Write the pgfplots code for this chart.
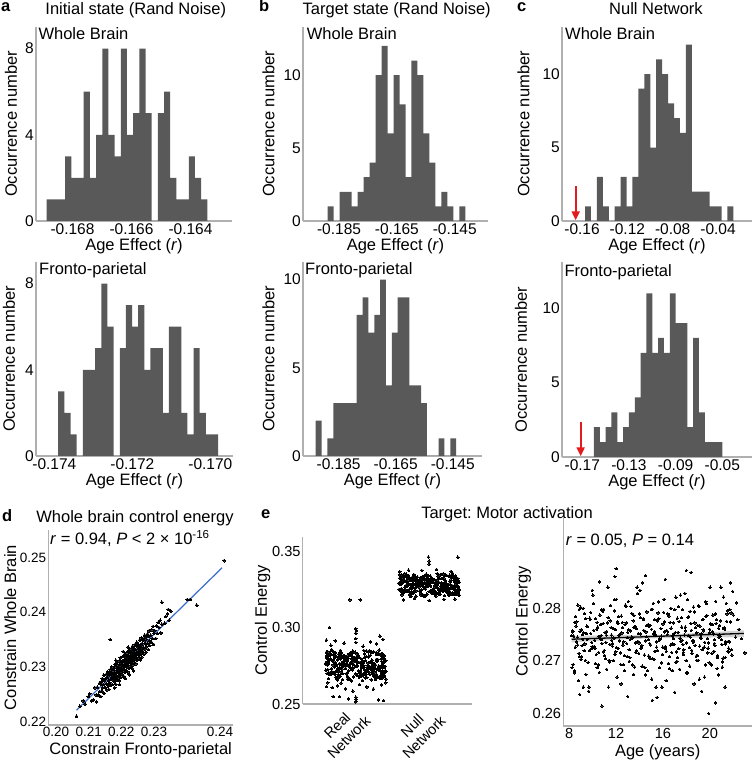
\documentclass[border=0pt]{standalone}
\usepackage{fontspec}
\setmainfont{Liberation Sans}
\usepackage{pgfplots}
\usepackage{pgfplotstable}
\pgfplotsset{compat=1.18}
\usetikzlibrary{arrows.meta}
\definecolor{bargray}{HTML}{595959}
\definecolor{axgray}{HTML}{B0B0B0}
\definecolor{arrowred}{HTML}{E41A1C}
\definecolor{lineblue}{HTML}{3A6BC9}
\newcommand{\fs}{\fontsize{16.5pt}{19pt}\selectfont}
\newcommand{\fsz}[1]{\fontsize{#1}{#1}\selectfont}
\pgfplotsset{
  base/.style={
    scale only axis, anchor=south west,
    axis x line=bottom, axis y line=left,
    axis line style={-, draw=axgray, line width=1.4pt},
    major tick length=0pt,
    tick label style={font=\fsz{15.5pt}, inner sep=2pt},
    label style={font=\fs},
    scaled ticks=false,
    /pgf/number format/assume math mode=true,
    xlabel style={at={([yshift=-25pt]axis description cs:0.5,0)}, anchor=center},
    ylabel style={at={(axis description cs:0,0.5)}, anchor=center},
  },
  ylshift/.style={ylabel style={at={([xshift=#1]axis description cs:0,0.5)}}},
  hist/.style={base, ymin=0, ylabel={Occurrence number}, xlabel={Age Effect (\textit{r})}},
  bars/.style={ybar interval, fill=bargray, draw=none},
  pts/.style={only marks, mark=*, mark size=#1, mark options={fill=black, draw=black, line width=0pt}},
  pts/.default=1.0pt,
  redarrow/.style={arrowred, line width=2pt, -{Triangle[width=8pt,length=9pt]}},
}
\pgfplotstableread{
xa ya xb yb xc yc xd yd
8.20 0.2748 8.25 0.2687 8.29 0.2757 8.32 0.2755
8.34 0.2693 8.39 0.2747 8.43 0.2677 8.46 0.2681
8.47 0.2773 8.52 0.2726 8.56 0.2784 8.59 0.2766
8.61 0.2736 8.66 0.2774 8.70 0.2745 8.73 0.2730
8.75 0.2806 8.80 0.2662 8.84 0.2714 8.87 0.2798
8.89 0.2708 8.94 0.2756 8.98 0.2802 9.01 0.2703
9.02 0.2759 9.07 0.2708 9.11 0.2729 9.14 0.2750
9.16 0.2741 9.21 0.2800 9.25 0.2753 9.28 0.2719
9.30 0.2790 9.35 0.2732 9.39 0.2701 9.42 0.2780
9.43 0.2674 9.48 0.2752 9.52 0.2766 9.55 0.2741
9.57 0.2765 9.62 0.2697 9.66 0.2642 9.69 0.2650
9.71 0.2719 9.76 0.2781 9.80 0.2779 9.83 0.2792
9.84 0.2752 9.89 0.2723 9.93 0.2735 9.96 0.2727
9.98 0.2834 10.03 0.2825 10.07 0.2809 10.10 0.2758
10.12 0.2727 10.17 0.2739 10.21 0.2724 10.24 0.2695
10.26 0.2780 10.31 0.2712 10.35 0.2760 10.38 0.2773
10.39 0.2687 10.44 0.2764 10.48 0.2692 10.51 0.2716
10.53 0.2746 10.58 0.2678 10.62 0.2787 10.65 0.2742
10.67 0.2769 10.72 0.2748 10.76 0.2740 10.79 0.2797
10.80 0.2733 10.85 0.2794 10.89 0.2771 10.92 0.2717
10.94 0.2798 10.99 0.2720 11.03 0.2710 11.06 0.2754
11.08 0.2704 11.13 0.2735 11.17 0.2749 11.20 0.2684
11.21 0.2756 11.26 0.2772 11.30 0.2840 11.33 0.2782
11.35 0.2650 11.40 0.2701 11.44 0.2698 11.47 0.2731
11.49 0.2776 11.54 0.2805 11.58 0.2763 11.61 0.2749
11.63 0.2739 11.68 0.2728 11.72 0.2732 11.75 0.2700
11.76 0.2761 11.81 0.2743 11.85 0.2795 11.88 0.2816
11.90 0.2712 11.95 0.2759 11.99 0.2717 12.02 0.2725
12.04 0.2817 12.09 0.2669 12.13 0.2774 12.16 0.2771
12.17 0.2723 12.22 0.2784 12.26 0.2748 12.29 0.2738
12.31 0.2750 12.36 0.2715 12.40 0.2693 12.43 0.2656
12.45 0.2785 12.50 0.2753 12.54 0.2773 12.57 0.2763
12.58 0.2730 12.63 0.2693 12.67 0.2736 12.70 0.2710
12.72 0.2681 12.77 0.2769 12.81 0.2806 12.84 0.2803
12.86 0.2772 12.91 0.2733 12.95 0.2708 12.98 0.2744
13.00 0.2754 13.05 0.2813 13.09 0.2759 13.12 0.2721
13.13 0.2699 13.18 0.2706 13.22 0.2741 13.25 0.2757
13.27 0.2803 13.32 0.2745 13.36 0.2790 13.39 0.2692
13.41 0.2743 13.46 0.2776 13.50 0.2674 13.53 0.2786
13.54 0.2764 13.59 0.2688 13.63 0.2765 13.66 0.2734
13.68 0.2716 13.73 0.2761 13.77 0.2719 13.80 0.2840
13.82 0.2828 13.87 0.2737 13.91 0.2752 13.94 0.2714
13.95 0.2734 14.00 0.2789 14.04 0.2834 14.07 0.2751
14.09 0.2782 14.14 0.2724 14.18 0.2727 14.21 0.2729
14.23 0.2690 14.28 0.2848 14.32 0.2780 14.35 0.2778
14.37 0.2758 14.42 0.2711 14.46 0.2687 14.49 0.2673
14.50 0.2738 14.55 0.2755 14.59 0.2746 14.62 0.2767
14.64 0.2793 14.69 0.2681 14.73 0.2769 14.76 0.2740
14.78 0.2709 14.83 0.2766 14.87 0.2733 14.90 0.2705
14.91 0.2767 14.96 0.2730 15.00 0.2798 15.03 0.2760
15.05 0.2665 15.10 0.2798 15.14 0.2704 15.17 0.2809
15.19 0.2751 15.24 0.2703 15.28 0.2756 15.31 0.2718
15.32 0.2778 15.37 0.2750 15.41 0.2650 15.44 0.2736
15.46 0.2726 15.51 0.2719 15.55 0.2776 15.58 0.2791
15.60 0.2812 15.65 0.2780 15.69 0.2739 15.72 0.2687
15.74 0.2742 15.79 0.2741 15.83 0.2761 15.86 0.2747
15.87 0.2696 15.92 0.2650 15.96 0.2712 15.99 0.2726
16.01 0.2770 16.06 0.2792 16.10 0.2817 16.13 0.2774
16.15 0.2755 16.20 0.2727 16.24 0.2723 16.27 0.2662
16.28 0.2718 16.33 0.2758 16.37 0.2750 16.40 0.2756
16.42 0.2789 16.47 0.2695 16.51 0.2785 16.54 0.2708
16.56 0.2685 16.61 0.2773 16.65 0.2730 16.68 0.2800
16.69 0.2762 16.74 0.2716 16.78 0.2681 16.81 0.2732
16.83 0.2747 16.88 0.2742 16.92 0.2772 16.95 0.2752
16.97 0.2731 17.02 0.2797 17.06 0.2754 17.09 0.2697
17.11 0.2821 17.16 0.2717 17.20 0.2699 17.23 0.2781
17.24 0.2706 17.29 0.2754 17.33 0.2803 17.36 0.2723
17.38 0.2775 17.43 0.2684 17.47 0.2743 17.50 0.2825
17.52 0.2737 17.57 0.2782 17.61 0.2764 17.64 0.2739
17.65 0.2797 17.70 0.2731 17.74 0.2716 17.77 0.2712
17.79 0.2721 17.84 0.2749 17.88 0.2828 17.91 0.2764
17.93 0.2757 17.98 0.2700 18.02 0.2734 18.05 0.2678
18.06 0.2677 18.11 0.2816 18.15 0.2782 18.18 0.2748
18.20 0.2784 18.25 0.2725 18.29 0.2690 18.32 0.2794
18.34 0.2745 18.39 0.2771 18.43 0.2758 18.46 0.2720
18.48 0.2714 18.53 0.2738 18.57 0.2738 18.60 0.2735
18.61 0.2802 18.66 0.2656 18.70 0.2793 18.73 0.2772
18.75 0.2729 18.80 0.2763 18.84 0.2709 18.87 0.2701
18.89 0.2753 18.94 0.2710 18.98 0.2767 19.01 0.2805
19.02 0.2701 19.07 0.2803 19.11 0.2665 19.14 0.2728
19.16 0.2766 19.21 0.2744 19.25 0.2751 19.28 0.2743
19.30 0.2642 19.35 0.2721 19.39 0.2778 19.42 0.2759
19.43 0.2779 19.48 0.2757 19.52 0.2726 19.55 0.2669
19.57 0.2735 19.62 0.2692 19.66 0.2812 19.69 0.2784
19.71 0.2809 19.76 0.2786 19.80 0.2742 19.83 0.2715
19.85 0.2724 19.90 0.2734 19.94 0.2696 19.97 0.2753
19.98 0.2760 20.03 0.2840 20.07 0.2770 20.10 0.2693
20.12 0.2692 20.17 0.2714 20.21 0.2755 20.24 0.2769
20.26 0.2787 20.31 0.2751 20.35 0.2718 20.38 0.2733
20.39 0.2740 20.44 0.2729 20.48 0.2789 20.51 0.2813
20.53 0.2771 20.58 0.2778 20.62 0.2685 20.65 0.2706
20.67 0.2710 20.72 0.2673 20.76 0.2762 20.79 0.2745
20.80 0.2749 20.85 0.2767 20.89 0.2747 20.92 0.2776
20.94 0.2840 20.99 0.2740 21.03 0.2731 21.06 0.2688
21.08 0.2698 21.13 0.2705 21.17 0.2821 21.20 0.2761
21.22 0.2763 21.27 0.2760 21.31 0.2706 21.34 0.2737
21.35 0.2732 21.40 0.2809 21.44 0.2775 21.47 0.2789
21.49 0.2795 21.54 0.2718 21.58 0.2737 21.61 0.2724
21.63 0.2717 21.68 0.2736 21.72 0.2797 21.75 0.2848
21.76 0.2774 21.81 0.2791 21.85 0.2721 21.88 0.2711
}\agetab
\begin{document}
\frenchspacing
\begin{tikzpicture}[font=\fs]
\path[use as bounding box] (0,0) rectangle (752pt,761pt);

% ---------- panel titles ----------
\node[anchor=base west, inner sep=0, font=\fs\bfseries] at (1pt,749pt) {a};
\node[anchor=base, inner sep=0] at (135.8pt,746pt) {Initial state (Rand Noise)};
\node[anchor=base west, inner sep=0, font=\fs\bfseries] at (259pt,749pt) {b};
\node[anchor=base, inner sep=0] at (396.7pt,746pt) {Target state (Rand Noise)};
\node[anchor=base west, inner sep=0, font=\fs\bfseries] at (517pt,749pt) {c};
\node[anchor=base, inner sep=0] at (656pt,746pt) {Null Network};
\node[anchor=base west, inner sep=0, font=\fs\bfseries] at (2pt,239pt) {d};
\node[anchor=base, inner sep=0] at (135pt,238.5pt) {Whole brain control energy};
\node[anchor=base west, inner sep=0, font=\fs\bfseries] at (261pt,242pt) {e};
\node[anchor=base, inner sep=0] at (507pt,242pt) {Target: Motor activation};

% ---------- a top ----------
\begin{axis}[hist, at={(36pt,540pt)}, width=196pt, height=194pt,
  xmin=-0.169237, xmax=-0.162593, ymax=9,
  xtick={-0.168,-0.166,-0.164}, xticklabels={-0.168,-0.166,-0.164},
  ytick={0,4,8}, ylshift=-25pt]
\addplot[bars] coordinates {(-0.168875,1) (-0.168666,1) (-0.168456,1) (-0.168247,3) (-0.168037,2) (-0.167828,2) (-0.167619,6) (-0.167409,2) (-0.167200,4) (-0.166991,8) (-0.166781,4) (-0.166572,3) (-0.166362,8) (-0.166153,4) (-0.165944,5) (-0.165734,8) (-0.165525,5) (-0.165316,0) (-0.165106,5) (-0.164897,6) (-0.164687,2) (-0.164478,1) (-0.164269,1) (-0.164059,3) (-0.163850,2) (-0.163640,1) (-0.163431,0)};
\end{axis}
\node[anchor=base west, inner sep=0] at (38.3pt,721pt) {Whole Brain};

% ---------- b top ----------
\begin{axis}[hist, at={(303pt,540pt)}, width=185pt, height=194pt,
  xmin=-0.19746, xmax=-0.1335, ymax=13.3,
  xtick={-0.185,-0.165,-0.145}, xticklabels={-0.185,-0.165,-0.145},
  ytick={0,5,10}, ylshift=-34.5pt]
\addplot[bars] coordinates {(-0.18893,1) (-0.18686,0) (-0.18479,2) (-0.18272,2) (-0.18065,1) (-0.17858,2) (-0.17651,3) (-0.17444,4) (-0.17237,10) (-0.17030,12) (-0.16823,6) (-0.16616,10) (-0.16409,8) (-0.16202,3) (-0.15995,11) (-0.15788,10) (-0.15581,6) (-0.15374,4) (-0.15167,1) (-0.14960,2) (-0.14753,1) (-0.14546,0) (-0.14339,1) (-0.14132,0)};
\end{axis}
\node[anchor=base west, inner sep=0] at (306.7pt,721pt) {Whole Brain};

% ---------- c top ----------
\begin{axis}[hist, at={(562pt,540pt)}, width=190pt, height=194pt,
  xmin=-0.1777, xmax=-0.01, ymax=13.2,
  xtick={-0.16,-0.12,-0.08,-0.04}, xticklabels={-0.16,-0.12,-0.08,-0.04},
  ytick={0,5,10}, ylshift=-38.5pt]
\addplot[bars] coordinates {(-0.15740,1) (-0.15216,0) (-0.14692,3) (-0.14168,1) (-0.13644,0) (-0.13120,1) (-0.12596,3) (-0.12072,1) (-0.11548,3) (-0.11024,9) (-0.10500,10) (-0.09976,5) (-0.09452,11) (-0.08928,10) (-0.08404,8) (-0.07880,7) (-0.07356,6) (-0.06832,12) (-0.06308,2) (-0.05784,2) (-0.05260,2) (-0.04736,1) (-0.04212,1) (-0.03688,0) (-0.03164,1) (-0.02640,0)};
\addplot[redarrow] coordinates {(-0.1656,2.35) (-0.1656,0.05)};
\end{axis}
\node[anchor=base west, inner sep=0] at (565pt,721pt) {Whole Brain};

% ---------- a bottom ----------
\begin{axis}[hist, at={(36pt,305pt)}, width=197pt, height=194pt,
  xmin=-0.17447, xmax=-0.16942, ymax=9,
  xtick={-0.174,-0.172,-0.170}, xticklabels={-0.174,-0.172,-0.170},
  ytick={0,4,8}, ylshift=-27pt]
\addplot[bars] coordinates {(-0.173900,3) (-0.173742,2) (-0.173585,1) (-0.173427,0) (-0.173269,4) (-0.173112,4) (-0.172954,5) (-0.172796,8) (-0.172638,6) (-0.172481,0) (-0.172323,5) (-0.172165,7) (-0.172008,6) (-0.171850,7) (-0.171692,4) (-0.171535,5) (-0.171377,5) (-0.171219,2) (-0.171061,6) (-0.170904,6) (-0.170746,2) (-0.170588,1) (-0.170431,5) (-0.170273,2) (-0.170115,1) (-0.169958,1) (-0.169800,0)};
\end{axis}
\node[anchor=base west, inner sep=0] at (39pt,486pt) {Fronto-parietal};

% ---------- b bottom ----------
\begin{axis}[hist, at={(303pt,305pt)}, width=179pt, height=194pt,
  xmin=-0.19746, xmax=-0.13475, ymax=11,
  xtick={-0.185,-0.165,-0.145}, xticklabels={-0.185,-0.165,-0.145},
  ytick={0,5,10}, ylshift=-34.5pt]
\addplot[bars] coordinates {(-0.19300,2) (-0.19095,0) (-0.18890,1) (-0.18685,3) (-0.18480,3) (-0.18275,3) (-0.18070,3) (-0.17865,8) (-0.17660,9) (-0.17455,7) (-0.17250,8) (-0.17045,10) (-0.16840,4) (-0.16635,7) (-0.16430,9) (-0.16225,9) (-0.16020,4) (-0.15815,4) (-0.15610,3) (-0.15405,0) (-0.15200,0) (-0.14995,1) (-0.14790,0) (-0.14585,1) (-0.14380,0)};
\end{axis}
\node[anchor=base west, inner sep=0] at (305pt,486pt) {Fronto-parietal};

% ---------- c bottom ----------
\begin{axis}[hist, at={(562pt,304pt)}, width=190pt, height=195pt,
  xmin=-0.1874, xmax=-0.0245, ymax=13.1,
  xtick={-0.17,-0.13,-0.09,-0.05}, xticklabels={-0.17,-0.13,-0.09,-0.05},
  ytick={0,5,10}, ylshift=-41pt]
\addplot[bars] coordinates {(-0.160,2) (-0.155,1) (-0.150,2) (-0.145,3) (-0.140,1) (-0.135,2) (-0.130,3) (-0.125,4) (-0.120,7) (-0.115,11) (-0.110,7) (-0.105,8) (-0.100,7) (-0.095,11) (-0.090,9) (-0.085,9) (-0.080,2) (-0.075,8) (-0.070,3) (-0.065,1) (-0.060,1) (-0.055,1) (-0.050,0)};
\addplot[redarrow] coordinates {(-0.1714,2.37) (-0.1714,0.05)};
\end{axis}
\node[anchor=base west, inner sep=0] at (564.3pt,484pt) {Fronto-parietal};

% ---------- d ----------
\begin{axis}[base, at={(48.3pt,36pt)}, width=184.7pt, height=195pt,
  tick label style={font=\fsz{13.5pt}},
  xmin=0.19812, xmax=0.24317, ymin=0.2194, ymax=0.2550,
  xtick={0.2000,0.2080,0.2159,0.2239,0.2400}, xticklabels={0.20,0.21,0.22,0.23,0.24},
  ytick={0.22,0.23,0.24,0.25}, yticklabels={0.22,0.23,0.24,0.25},
  xlabel={Constrain Fronto-parietal}, ylabel={Constrain Whole Brain}, ylshift=-38pt]
\addplot[pts=1.4pt] coordinates {
(0.2050,0.2210) (0.2058,0.2228) (0.2066,0.2238) (0.2071,0.2232) (0.2079,0.2246) (0.2082,0.2251) (0.2087,0.2238)
(0.2091,0.2240) (0.2095,0.2262) (0.2098,0.2249) (0.2099,0.2236)
(0.2101,0.2263) (0.2103,0.2249) (0.2106,0.2270) (0.2107,0.2255) (0.2109,0.2246) (0.2110,0.2268)
(0.2111,0.2273) (0.2112,0.2256) (0.2113,0.2279) (0.2114,0.2262) (0.2115,0.2268) (0.2116,0.2285) (0.2117,0.2252) (0.2118,0.2275) (0.2119,0.2263)
(0.2120,0.2278) (0.2121,0.2262) (0.2122,0.2286) (0.2123,0.2269) (0.2124,0.2258) (0.2125,0.2281) (0.2126,0.2291) (0.2127,0.2266) (0.2128,0.2275) (0.2129,0.2259) (0.2129,0.2284)
(0.2130,0.2287) (0.2131,0.2271) (0.2132,0.2295) (0.2133,0.2277) (0.2134,0.2266) (0.2135,0.2290) (0.2136,0.2281) (0.2136,0.2300) (0.2137,0.2268) (0.2138,0.2286) (0.2139,0.2276) (0.2139,0.2293) (0.2132,0.2350)
(0.2140,0.2281) (0.2141,0.2297) (0.2142,0.2273) (0.2143,0.2290) (0.2144,0.2305) (0.2144,0.2279) (0.2145,0.2286) (0.2146,0.2268) (0.2147,0.2300) (0.2147,0.2283) (0.2148,0.2294) (0.2149,0.2276) (0.2149,0.2309) (0.2143,0.2262) (0.2146,0.2312)
(0.2150,0.2290) (0.2151,0.2304) (0.2151,0.2280) (0.2152,0.2297) (0.2153,0.2285) (0.2154,0.2311) (0.2154,0.2292) (0.2155,0.2275) (0.2156,0.2302) (0.2156,0.2288) (0.2157,0.2317) (0.2158,0.2296) (0.2158,0.2281) (0.2159,0.2307) (0.2159,0.2291) (0.2155,0.2268)
(0.2160,0.2298) (0.2161,0.2311) (0.2161,0.2287) (0.2162,0.2304) (0.2163,0.2293) (0.2163,0.2319) (0.2164,0.2300) (0.2165,0.2283) (0.2165,0.2310) (0.2166,0.2296) (0.2167,0.2323) (0.2167,0.2305) (0.2168,0.2290) (0.2168,0.2314) (0.2169,0.2301) (0.2169,0.2279) (0.2164,0.2328)
(0.2170,0.2305) (0.2171,0.2318) (0.2171,0.2294) (0.2172,0.2311) (0.2173,0.2300) (0.2173,0.2326) (0.2174,0.2308) (0.2175,0.2291) (0.2175,0.2317) (0.2176,0.2303) (0.2177,0.2330) (0.2177,0.2312) (0.2178,0.2297) (0.2178,0.2321) (0.2179,0.2308) (0.2179,0.2286) (0.2176,0.2336)
(0.2180,0.2312) (0.2181,0.2326) (0.2181,0.2302) (0.2182,0.2319) (0.2183,0.2307) (0.2183,0.2333) (0.2184,0.2315) (0.2185,0.2298) (0.2185,0.2324) (0.2186,0.2311) (0.2187,0.2338) (0.2187,0.2320) (0.2188,0.2304) (0.2188,0.2329) (0.2189,0.2316) (0.2189,0.2293)
(0.2190,0.2320) (0.2191,0.2333) (0.2191,0.2309) (0.2192,0.2327) (0.2193,0.2315) (0.2193,0.2341) (0.2194,0.2322) (0.2195,0.2306) (0.2195,0.2332) (0.2196,0.2318) (0.2197,0.2345) (0.2197,0.2327) (0.2198,0.2312) (0.2198,0.2337) (0.2199,0.2323)
(0.2200,0.2327) (0.2201,0.2341) (0.2202,0.2317) (0.2203,0.2334) (0.2204,0.2322) (0.2204,0.2349) (0.2205,0.2330) (0.2206,0.2313) (0.2207,0.2340) (0.2208,0.2326) (0.2208,0.2353) (0.2209,0.2335) (0.2209,0.2318)
(0.2210,0.2343) (0.2211,0.2329) (0.2212,0.2352) (0.2213,0.2336) (0.2214,0.2323) (0.2215,0.2348) (0.2216,0.2358) (0.2217,0.2333) (0.2218,0.2342) (0.2219,0.2327) (0.2219,0.2355)
(0.2220,0.2351) (0.2221,0.2337) (0.2223,0.2360) (0.2224,0.2343) (0.2225,0.2332) (0.2226,0.2356) (0.2227,0.2366) (0.2228,0.2348) (0.2229,0.2339)
(0.2231,0.2358) (0.2233,0.2345) (0.2234,0.2368) (0.2235,0.2352) (0.2237,0.2374) (0.2238,0.2341) (0.2239,0.2361)
(0.2241,0.2366) (0.2243,0.2352) (0.2245,0.2375) (0.2247,0.2361) (0.2249,0.2381)
(0.2251,0.2372) (0.2254,0.2385) (0.2256,0.2362) (0.2258,0.2378)
(0.2258,0.2418) (0.2265,0.2380) (0.2268,0.2392) (0.2272,0.2397) (0.2276,0.2385)
(0.2274,0.2405) (0.2280,0.2402) (0.2320,0.2423) (0.2327,0.2423) (0.2343,0.2413) (0.2410,0.2494)};
\addplot[lineblue, line width=1.2pt] coordinates {(0.2050,0.2221) (0.2405,0.2481)};
\end{axis}
\node[anchor=base west, inner sep=0] at (50pt,216pt) {\textit{r} = 0.94, \textit{P} < 2 × 10\textsuperscript{-16}};

% ---------- e left ----------
\begin{axis}[base, at={(302.7pt,57pt)}, width=169pt, height=167.3pt,
  tick label style={font=\fsz{14.6pt}},
  xmin=0.277, xmax=2.58, ymin=0.25, ymax=0.36,
  xtick=\empty,
  ytick={0.25,0.30,0.35}, yticklabels={0.25,0.30,0.35},
  ylabel={Control Energy}, ylshift=-40pt]
\addplot[pts=1.3pt] coordinates {
(0.63,0.2767) (1.22,0.2710) (0.95,0.2833) (1.31,0.2732) (0.82,0.2760) (1.09,0.2688) (1.40,0.2789) (0.71,0.2747) (1.14,0.2811) (0.89,0.2664)
(1.35,0.2782) (0.76,0.2717) (1.03,0.2818) (1.27,0.2756) (0.61,0.2701) (1.17,0.2843) (0.92,0.2740) (1.38,0.2797) (0.79,0.2683) (1.06,0.2774)
(1.29,0.2726) (0.67,0.2825) (1.11,0.2752) (0.98,0.2804) (1.36,0.2671) (0.85,0.2786) (1.24,0.2695) (0.59,0.2764) (1.19,0.2850) (0.73,0.2714)
(1.01,0.2777) (1.33,0.2737) (0.88,0.2813) (1.26,0.2678) (0.65,0.2792) (1.08,0.2750) (0.80,0.2836) (1.39,0.2706) (0.94,0.2769) (1.15,0.2722)
(0.70,0.2822) (1.21,0.2659) (0.83,0.2780) (1.34,0.2744) (0.97,0.2801) (1.28,0.2691) (0.62,0.2758) (1.12,0.2829) (0.75,0.2729) (1.37,0.2808)
(0.91,0.2668) (1.04,0.2773) (1.41,0.2712) (0.78,0.2816) (1.18,0.2748) (0.66,0.2794) (1.25,0.2685) (0.99,0.2784) (1.32,0.2855) (0.86,0.2735)
(1.07,0.2799) (0.72,0.2697) (1.23,0.2762) (0.60,0.2840) (1.16,0.2719) (0.93,0.2771) (1.30,0.2673) (0.81,0.2806) (1.10,0.2742) (0.64,0.2787)
(1.02,0.2689) (1.36,0.2831) (0.74,0.2754) (1.13,0.2708) (0.90,0.2814) (1.20,0.2731) (0.69,0.2845) (1.39,0.2702) (0.96,0.2776) (1.25,0.2746)
(0.84,0.2820) (1.05,0.2676) (0.63,0.2790) (1.31,0.2724) (0.77,0.2803) (1.09,0.2655) (0.87,0.2766) (1.28,0.2826) (0.67,0.2715) (1.00,0.2781)
(1.35,0.2739) (0.79,0.2812) (1.14,0.2693) (0.61,0.2759) (1.22,0.2838) (0.94,0.2727) (1.38,0.2795) (0.89,0.2681) (1.17,0.2770) (0.71,0.2705)
(1.39,0.2740) (0.94,0.2797) (1.15,0.2674) (0.70,0.2775) (1.21,0.2747) (0.83,0.2819) (1.34,0.2718) (0.97,0.2760) (1.28,0.2696) (0.62,0.2843)
(1.12,0.2725) (0.75,0.2790) (1.37,0.2689) (0.91,0.2751) (1.04,0.2806) (1.41,0.2664) (0.78,0.2767) (1.18,0.2710) (0.66,0.2824) (1.25,0.2733)
(0.99,0.2781) (1.32,0.2682) (0.86,0.2755) (1.07,0.2703) (0.72,0.2836) (1.23,0.2721) (0.60,0.2812) (1.16,0.2743) (0.93,0.2657) (1.30,0.2793)
(0.81,0.2730) (1.10,0.2770) (0.64,0.2694) (1.02,0.2829) (1.36,0.2715) (0.74,0.2757) (1.13,0.2671) (0.90,0.2801) (1.20,0.2738) (0.69,0.2785)
(1.39,0.2685) (0.96,0.2848) (1.25,0.2727) (0.84,0.2763) (1.05,0.2706) (0.63,0.2816) (1.31,0.2749) (0.77,0.2678) (1.09,0.2778) (0.87,0.2699)
(1.28,0.2839) (0.67,0.2734) (1.00,0.2795) (1.35,0.2691) (0.79,0.2759) (1.14,0.2713) (0.61,0.2822) (1.22,0.2723) (0.94,0.2652) (1.38,0.2772)
(0.89,0.2708) (1.17,0.2810) (0.71,0.2745) (0.63,0.2667) (1.22,0.2788) (0.95,0.2736) (1.31,0.2834) (0.82,0.2701) (1.09,0.2765) (1.40,0.2720)
(0.71,0.2818) (1.14,0.2676) (0.89,0.2753) (1.35,0.2799) (0.76,0.2693) (1.03,0.2776) (1.27,0.2662) (0.61,0.2805) (1.17,0.2731) (0.92,0.2761)
(1.38,0.2687) (0.79,0.2831) (1.06,0.2717) (1.29,0.2783) (0.67,0.2704) (1.11,0.2852) (0.98,0.2741) (1.36,0.2695) (0.85,0.2792) (1.24,0.2726)
(0.59,0.2768) (1.19,0.2695) (0.73,0.2814) (1.01,0.2748) (1.33,0.2669) (0.88,0.2780) (1.26,0.2712) (0.65,0.2826) (1.08,0.2737) (0.80,0.2802)
(1.27,0.2671) (0.61,0.2776) (1.17,0.2715) (0.92,0.2819) (1.38,0.2751) (0.79,0.2797) (1.06,0.2688) (1.29,0.2787) (0.67,0.2858) (1.11,0.2738)
(0.98,0.2802) (1.36,0.2700) (0.85,0.2765) (1.24,0.2843) (0.59,0.2722) (1.19,0.2774) (0.73,0.2676) (1.01,0.2809) (1.33,0.2745) (0.88,0.2790)
(1.26,0.2692) (0.65,0.2834) (1.08,0.2757) (0.80,0.2711) (1.39,0.2817) (0.94,0.2734) (1.15,0.2848) (0.70,0.2705) (1.21,0.2779) (0.83,0.2749)
(1.34,0.2823) (0.97,0.2679) (1.28,0.2793) (0.62,0.2727) (1.12,0.2806) (0.75,0.2658) (1.37,0.2769) (0.91,0.2829) (1.04,0.2718) (1.41,0.2784)
(0.78,0.2742) (1.18,0.2815) (0.66,0.2696) (1.25,0.2762) (0.99,0.2841) (1.32,0.2730) (0.86,0.2798) (1.07,0.2684) (0.72,0.2773) (1.23,0.2708)
(0.60,0.2770) (1.16,0.2713) (0.93,0.2836) (1.30,0.2735) (0.81,0.2763) (1.10,0.2691) (0.64,0.2792) (1.02,0.2750) (1.36,0.2814) (0.74,0.2667)
(1.13,0.2785) (0.90,0.2720) (1.20,0.2821) (0.69,0.2757) (1.39,0.2704) (0.96,0.2846) (1.25,0.2743) (0.84,0.2807) (1.05,0.2686) (0.63,0.2777)
(1.31,0.2729) (0.77,0.2828) (1.09,0.2755) (0.87,0.2806) (1.28,0.2674) (0.67,0.2789) (1.00,0.2698) (1.35,0.2753) (0.79,0.2853) (1.14,0.2717)
(0.61,0.2800) (1.22,0.2740) (0.94,0.2816) (1.38,0.2681) (0.89,0.2795) (1.17,0.2753) (0.71,0.2839) (0.63,0.2709) (1.22,0.2772) (0.95,0.2725)
(1.31,0.2825) (0.82,0.2662) (1.09,0.2783) (1.40,0.2747) (0.71,0.2804) (1.14,0.2694) (0.89,0.2761) (1.35,0.2832) (0.76,0.2732) (1.03,0.2811)
(0.64,0.3003) (0.92,0.3185) (1.06,0.3185) (1.00,0.2996) (1.01,0.2982) (1.00,0.2965) (1.00,0.2930) (1.00,0.2905) (1.33,0.2946) (1.37,0.2925)
(0.60,0.2920) (0.72,0.2915) (0.84,0.2900) (1.20,0.2908) (1.28,0.2895) (0.66,0.2886) (1.10,0.2880) (0.69,0.2548) (0.78,0.2548) (0.90,0.2533)
(1.00,0.2515) (1.00,0.2530) (1.00,0.2545) (1.31,0.2527) (1.38,0.2523) (0.60,0.2614) (0.68,0.2608) (0.75,0.2620) (0.86,0.2600) (0.96,0.2585)
(1.15,0.2612) (1.24,0.2598) (1.35,0.2625) (1.41,0.2640) (0.62,0.2640) (0.80,0.2638) (1.05,0.2628)};
\addplot[pts=1.3pt] coordinates {
(1.63,0.3294) (2.22,0.3251) (1.95,0.3344) (2.31,0.3268) (1.82,0.3289) (2.09,0.3235) (2.40,0.3311) (1.71,0.3279) (2.14,0.3327) (1.89,0.3217)
(2.35,0.3305) (1.76,0.3256) (2.03,0.3332) (2.27,0.3286) (1.61,0.3244) (2.17,0.3351) (1.92,0.3274) (2.38,0.3317) (1.79,0.3231) (2.06,0.3299)
(2.29,0.3263) (1.67,0.3338) (2.11,0.3283) (1.98,0.3322) (2.36,0.3222) (1.85,0.3308) (2.24,0.3240) (1.59,0.3292) (2.19,0.3356) (1.73,0.3254)
(2.01,0.3302) (2.33,0.3271) (1.88,0.3329) (2.26,0.3227) (1.65,0.3313) (2.08,0.3281) (1.80,0.3346) (2.39,0.3248) (1.94,0.3296) (2.15,0.3260)
(1.70,0.3335) (2.21,0.3213) (1.83,0.3304) (2.34,0.3277) (1.97,0.3320) (2.28,0.3237) (1.62,0.3287) (2.12,0.3341) (1.75,0.3265) (2.37,0.3325)
(1.91,0.3220) (2.04,0.3299) (2.41,0.3253) (1.78,0.3331) (2.18,0.3280) (1.66,0.3314) (2.25,0.3232) (1.99,0.3307) (2.32,0.3360) (1.86,0.3270)
(2.07,0.3318) (1.72,0.3241) (2.23,0.3290) (1.60,0.3349) (2.16,0.3258) (1.93,0.3297) (2.30,0.3223) (1.81,0.3323) (2.10,0.3275) (1.64,0.3309)
(2.02,0.3235) (2.36,0.3342) (1.74,0.3284) (2.13,0.3250) (1.90,0.3329) (2.20,0.3267) (1.69,0.3353) (2.39,0.3245) (1.96,0.3301) (2.25,0.3278)
(1.84,0.3334) (2.05,0.3226) (1.63,0.3311) (2.31,0.3262) (1.77,0.3321) (2.09,0.3210) (1.87,0.3293) (2.28,0.3338) (1.67,0.3255) (2.00,0.3305)
(2.35,0.3273) (1.79,0.3328) (2.14,0.3238) (1.61,0.3288) (2.22,0.3347) (1.94,0.3264) (2.38,0.3315) (1.89,0.3229) (2.17,0.3296) (1.71,0.3247)
(2.39,0.3273) (1.94,0.3316) (2.15,0.3223) (1.70,0.3299) (2.21,0.3278) (1.83,0.3332) (2.34,0.3256) (1.97,0.3288) (2.28,0.3240) (1.62,0.3350)
(2.12,0.3262) (1.75,0.3311) (2.37,0.3235) (1.91,0.3281) (2.04,0.3323) (2.41,0.3216) (1.78,0.3293) (2.18,0.3250) (1.66,0.3336) (2.25,0.3268)
(1.99,0.3304) (2.32,0.3229) (1.86,0.3284) (2.07,0.3245) (1.72,0.3345) (2.23,0.3259) (1.60,0.3327) (2.16,0.3275) (1.93,0.3211) (2.30,0.3313)
(1.81,0.3265) (2.10,0.3296) (1.64,0.3238) (2.02,0.3340) (2.36,0.3254) (1.74,0.3286) (2.13,0.3221) (1.90,0.3319) (2.20,0.3271) (1.69,0.3307)
(2.39,0.3232) (1.96,0.3354) (2.25,0.3263) (1.84,0.3290) (2.05,0.3247) (1.63,0.3330) (2.31,0.3280) (1.77,0.3226) (2.09,0.3302) (1.87,0.3242)
(2.28,0.3347) (1.67,0.3268) (2.00,0.3314) (2.35,0.3236) (1.79,0.3287) (2.14,0.3253) (1.61,0.3335) (2.22,0.3260) (1.94,0.3207) (2.38,0.3297)
(1.89,0.3249) (2.17,0.3326) (1.71,0.3277) (1.63,0.3218) (2.22,0.3309) (1.95,0.3270) (2.31,0.3344) (1.82,0.3244) (2.09,0.3292) (2.40,0.3258)
(1.71,0.3332) (2.14,0.3225) (1.89,0.3283) (2.35,0.3317) (1.76,0.3238) (2.03,0.3300) (2.27,0.3214) (1.61,0.3322) (2.17,0.3266) (1.92,0.3289)
(2.38,0.3233) (1.79,0.3341) (2.06,0.3256) (2.29,0.3305) (1.67,0.3246) (2.11,0.3357) (1.98,0.3274) (2.36,0.3239) (1.85,0.3312) (2.24,0.3262)
(1.59,0.3294) (2.19,0.3240) (1.73,0.3329) (2.01,0.3279) (2.33,0.3220) (1.88,0.3303) (2.26,0.3252) (1.65,0.3338) (2.08,0.3271) (1.80,0.3320)
(2.27,0.3216) (1.61,0.3295) (2.17,0.3249) (1.92,0.3327) (2.38,0.3276) (1.79,0.3310) (2.06,0.3228) (2.29,0.3303) (1.67,0.3356) (2.11,0.3266)
(1.98,0.3314) (2.36,0.3237) (1.85,0.3286) (2.24,0.3345) (1.59,0.3254) (2.19,0.3293) (1.73,0.3219) (2.01,0.3319) (2.33,0.3271) (1.88,0.3305)
(2.26,0.3231) (1.65,0.3338) (2.08,0.3280) (1.80,0.3246) (2.39,0.3325) (1.94,0.3263) (2.15,0.3349) (1.70,0.3241) (2.21,0.3297) (1.83,0.3274)
(2.34,0.3330) (1.97,0.3222) (2.28,0.3307) (1.62,0.3258) (2.12,0.3317) (1.75,0.3206) (2.37,0.3289) (1.91,0.3334) (2.04,0.3251) (2.41,0.3301)
(1.78,0.3269) (2.18,0.3324) (1.66,0.3234) (2.25,0.3284) (1.99,0.3343) (2.32,0.3260) (1.86,0.3311) (2.07,0.3225) (1.72,0.3292) (2.23,0.3243)
(1.60,0.3290) (2.16,0.3247) (1.93,0.3340) (2.30,0.3264) (1.81,0.3285) (2.10,0.3231) (1.64,0.3307) (2.02,0.3275) (2.36,0.3323) (1.74,0.3213)
(2.13,0.3301) (1.90,0.3252) (2.20,0.3328) (1.69,0.3282) (2.39,0.3240) (1.96,0.3347) (2.25,0.3270) (1.84,0.3313) (2.05,0.3227) (1.63,0.3295)
(2.31,0.3259) (1.77,0.3334) (2.09,0.3279) (1.87,0.3318) (2.28,0.3223) (1.67,0.3309) (2.00,0.3239) (2.35,0.3279) (1.79,0.3352) (2.14,0.3250)
(1.61,0.3298) (2.22,0.3267) (1.94,0.3325) (2.38,0.3223) (1.89,0.3309) (2.17,0.3277) (1.71,0.3342) (1.63,0.3244) (2.22,0.3292) (1.95,0.3256)
(2.31,0.3331) (1.82,0.3209) (2.09,0.3300) (2.40,0.3273) (1.71,0.3316) (2.14,0.3233) (1.89,0.3283) (2.35,0.3337) (1.76,0.3261) (2.03,0.3321)
(1.99,0.3466) (2.39,0.3466) (2.00,0.3440) (2.00,0.3420) (1.65,0.3185) (2.00,0.3180) (2.35,0.3190) (1.80,0.3195) (2.20,0.3188)
(1.60,0.3370) (2.10,0.3385) (1.90,0.3378) (2.30,0.3372) (1.72,0.3380)};
\end{axis}
\node[rotate=45, align=center, font=\fontsize{14.6pt}{16.5pt}\selectfont, inner sep=0, anchor=center] at (343pt,29.5pt) {Real\\Network};
\node[rotate=45, align=center, font=\fontsize{14.6pt}{16.5pt}\selectfont, inner sep=0, anchor=center] at (418pt,29.5pt) {Null\\Network};

% ---------- e right ----------
\begin{axis}[base, at={(563.3pt,35pt)}, width=188.7pt, height=209.3pt,
  tick label style={font=\fsz{14.6pt}},
  xmin=7.5, xmax=23.6, ymin=0.2576, ymax=0.2974,
  xtick={8,12,16,20}, xticklabels={8,12,16,20},
  ytick={0.26,0.27,0.28}, yticklabels={0.26,0.27,0.28},
  xlabel={Age (years)}, ylabel={Control Energy}, ylshift=-40pt,
  xlabel style={at={([yshift=-26pt]axis description cs:0.5,0)}}]
\addplot[pts=1.2pt] table[x=xa, y=ya] {\agetab};
\addplot[pts=1.2pt] table[x=xb, y=yb] {\agetab};
\addplot[pts=1.2pt] table[x=xc, y=yc] {\agetab};
\addplot[pts=1.2pt] table[x=xd, y=yd] {\agetab};
\addplot[pts=1.2pt] coordinates {(22.0,0.2787) (22.4,0.2778) (23.0,0.2715) (22.2,0.2745) (22.7,0.2742) (22.5,0.2760) (21.95,0.2832) (22.3,0.2810) (19.9,0.2600) (10.8,0.2614) (12.0,0.2875) (11.9,0.2860) (18.0,0.2872) (18.4,0.2868) (14.5,0.2862) (8.9,0.2636) (9.2,0.2650) (15.1,0.2625) (15.5,0.2630) (20.5,0.2620) (17.0,0.2640) (13.0,0.2632) (21.3,0.2650) (16.2,0.2855) (10.6,0.2850)};
\addplot[fill=gray!45, draw=none, opacity=0.8] coordinates {(8.2,0.2735) (12,0.2740) (15.5,0.2743) (19,0.2744) (22.9,0.2745) (22.9,0.2758) (19,0.2753) (15.5,0.2749) (12,0.2749) (8.2,0.2747)};
\addplot[black, line width=1.3pt] coordinates {(8.2,0.2741) (22.9,0.2752)};
\end{axis}
\node[anchor=base west, inner sep=0] at (565.7pt,215pt) {\textit{r} = 0.05, \textit{P} = 0.14};
\end{tikzpicture}
\end{document}
